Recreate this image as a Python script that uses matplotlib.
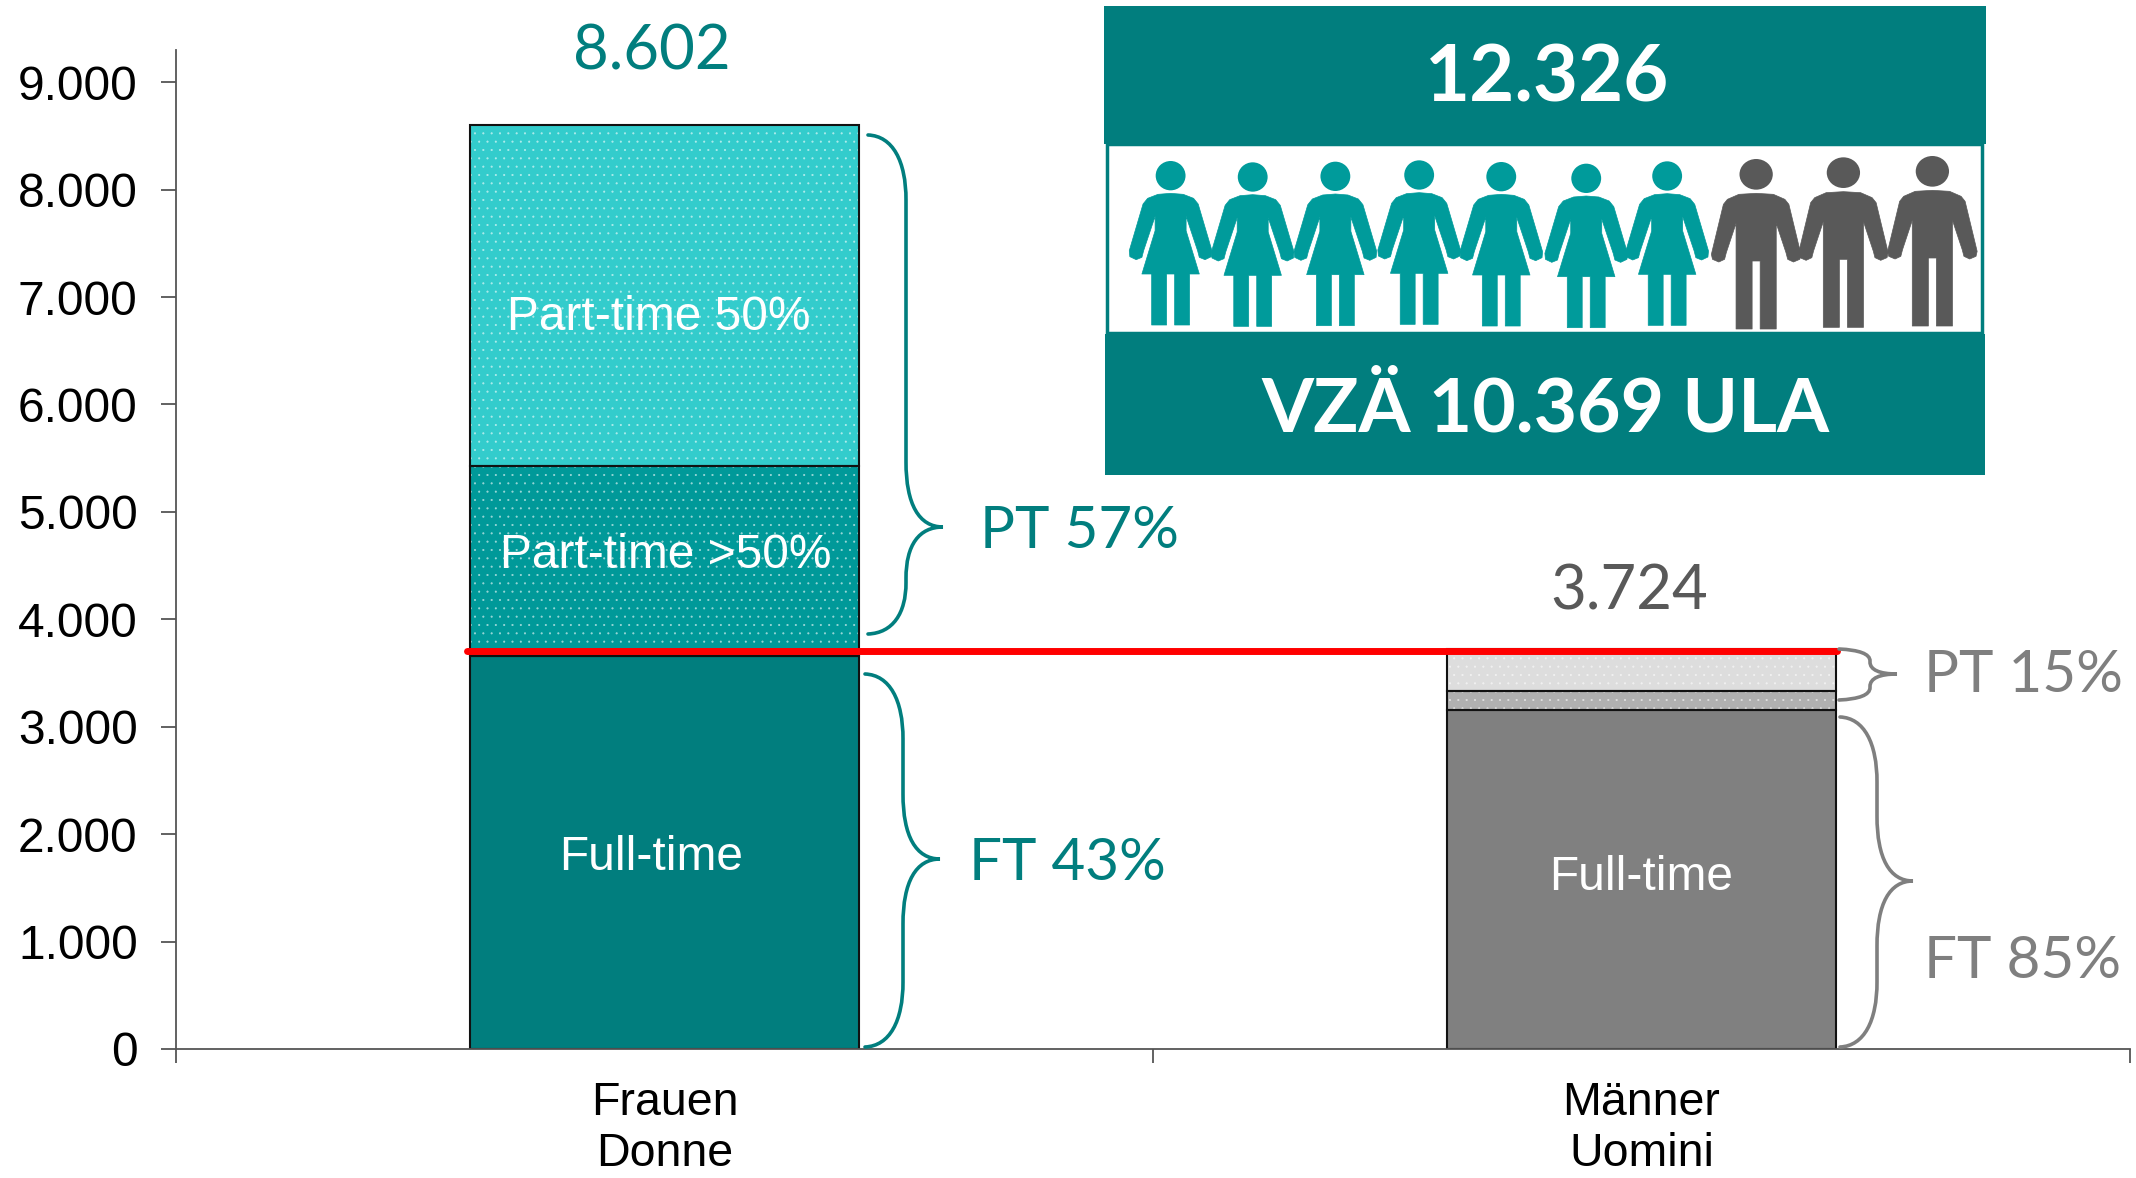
import matplotlib
matplotlib.use("Agg")
import matplotlib.pyplot as plt
from matplotlib.path import Path
from matplotlib.patches import PathPatch, Rectangle, Ellipse, Polygon

# ---- data ----
categories = ["Frauen\nDonne", "Männer\nUomini"]
full_time = [3660, 3156]
part_time_over50 = [1768, 177]
part_time_50 = [3174, 391]
totals = ["8.602", "3.724"]
reference_line = 3724
y_ticks = [0, 1000, 2000, 3000, 4000, 5000, 6000, 7000, 8000, 9000]
ft_labels = ["Full-time", "Full-time"]
pt_share = ["PT 57%", "PT 15%"]
ft_share = ["FT 43%", "FT 85%"]
headcount = "12.326"
fte = "VZÄ 10.369 ULA"
n_women, n_men = 7, 3

# ---- styles ----
TEAL = "#017E7E"
GREY = "#7F7F7F"
ARIAL = "Liberation Sans"
HUM = "Lato"
W, H = 2136, 1178
plt.rcParams["hatch.linewidth"] = 0.3
plt.rcParams["font.family"] = ARIAL

fig = plt.figure(figsize=(W / 100, H / 100), dpi=100, facecolor="white")
L, R, B, T = 176, 2130, 1049, 50
ax = fig.add_axes([L / W, 1 - B / H, (R - L) / W, (B - T) / H])
ax.set_xlim(-0.5, 1.5)
ax.set_ylim(0, 9300)
xs = [0, 1]
bw = 0.398

def stack(vals, bottoms, colors, dotted):
    for i, (v, b) in enumerate(zip(vals, bottoms)):
        ax.bar(xs[i], v, bw, bottom=b, color=colors[i], edgecolor="none", zorder=2)
        if dotted:
            ax.bar(xs[i], v, bw, bottom=b, facecolor="none", edgecolor=(1, 1, 1, 0.55),
                   hatch="..", linewidth=0, zorder=2.1)
        ax.bar(xs[i], v, bw, bottom=b, facecolor="none", edgecolor="#111111",
               linewidth=1.5, zorder=2.2)

b0 = [0, 0]
b1 = full_time
b2 = [a + c for a, c in zip(full_time, part_time_over50)]
stack(full_time, b0, [TEAL, "#808080"], False)
stack(part_time_over50, b1, ["#009999", "#B0B0B0"], True)
stack(part_time_50, b2, ["#33CCCC", "#DDDDDD"], True)
ax.plot([-0.2025, 1.2], [reference_line - 20] * 2, color="#FF0000", lw=5,
        solid_capstyle="round", zorder=4)

for s in ("top", "right"):
    ax.spines[s].set_visible(False)
for s in ("left", "bottom"):
    ax.spines[s].set_color("#555555")
    ax.spines[s].set_linewidth(1.3)
ax.set_yticks(y_ticks)
ax.set_yticklabels([f"{v:,}".replace(",", ".") for v in y_ticks], fontsize=34.5, color="black")
ax.tick_params(axis="y", length=10.6, width=1.3, color="#555555", pad=17)
ax.set_xticks([-0.5, 0.5, 1.5])
ax.set_xticklabels([])
ax.tick_params(axis="x", which="major", length=10, width=1.3, color="#555555")
ax.set_xticks(xs, minor=True)
ax.set_xticklabels(categories, minor=True, fontsize=33.5, color="black", linespacing=1.22)
ax.tick_params(axis="x", which="minor", length=0, pad=23)

# ---- overlay in pixel coordinates ----
ov = fig.add_axes([0, 0, 1, 1], facecolor="none")
ov.set_xlim(0, W)
ov.set_ylim(H, 0)
ov.axis("off")

def txt(x, y, s, size, color, family=HUM, weight="normal"):
    ov.text(x, y, s, fontsize=size, color=color, family=family, weight=weight,
            ha="center", va="center_baseline")

def brace(x0, y0, y1, sx, tx, ym, color):
    r0 = min((ym - y0) * 0.48, 65)
    r1 = min((y1 - ym) * 0.48, 65)
    v = [(x0, y0), (x0 + (sx - x0) * .65, y0 + 1), (sx, y0 + r0 * .4), (sx, y0 + r0),
         (sx, ym - r0),
         (sx, ym - r0 * .35), (sx + (tx - sx) * .35, ym), (tx, ym),
         (sx + (tx - sx) * .35, ym), (sx, ym + r1 * .35), (sx, ym + r1),
         (sx, y1 - r1),
         (sx, y1 - r1 * .4), (x0 + (sx - x0) * .65, y1 - 1), (x0, y1)]
    c = [Path.MOVETO, Path.CURVE4, Path.CURVE4, Path.CURVE4, Path.LINETO,
         Path.CURVE4, Path.CURVE4, Path.CURVE4, Path.CURVE4, Path.CURVE4, Path.CURVE4,
         Path.LINETO, Path.CURVE4, Path.CURVE4, Path.CURVE4]
    ov.add_patch(PathPatch(Path(v, c), fc="none", ec=color, lw=2.6, capstyle="round"))

brace(868, 135, 634, 906, 943, 527, TEAL)
brace(865, 674, 1047, 903, 940, 859, TEAL)
brace(1839, 649, 700, 1870, 1897, 674, GREY)
brace(1840, 717, 1047, 1877, 1913, 881, GREY)

txt(652, 47, totals[0], 44.5, TEAL)
txt(1629, 586, totals[1], 44.5, "#595959")
txt(1079, 526, pt_share[0], 42, TEAL)
txt(1067, 859, ft_share[0], 42, TEAL)
txt(2023, 670, pt_share[1], 42, GREY)
txt(2023, 957, ft_share[1], 42, GREY)
txt(659, 313, "Part-time 50%", 34.5, "white", ARIAL)
txt(666, 550, "Part-time >50%", 34.5, "white", ARIAL)
txt(651, 853, ft_labels[0], 34.5, "white", ARIAL)
txt(1641, 873, ft_labels[1], 34.5, "white", ARIAL)

# ---- infographic panel ----
ov.add_patch(Rectangle((1107, 144), 875, 189, fc="white", ec=TEAL, lw=2.5))
ov.add_patch(Rectangle((1104, 6), 882, 138, fc=TEAL, ec="none"))
ov.add_patch(Rectangle((1105, 334), 880, 141, fc=TEAL, ec="none"))
txt(1547, 72, headcount, 56, "white", HUM, "bold")
txt(1545, 404, fte, 54, "white", HUM, "bold")

SX, SY = 1.742, 3.0
half_w = [(0, 53), (22, 56), (40, 68), (48, 85), (72, 225), (71, 243), (60, 252), (50, 245),
          (47, 225), (27, 122), (27, 165), (50, 295), (33, 295), (33, 448), (7, 448), (7, 295), (0, 295)]
half_m = [(0, 57), (30, 60), (50, 75), (57, 90), (78, 240), (76, 255), (65, 263), (55, 255),
          (52, 235), (35, 147), (35, 464), (7, 464), (7, 260), (0, 260)]

def person(zx, zy, half, hx, hy, color):
    cx, cy = 1100 + zx / SX, zy / SY
    pts = [(cx + x / SX, cy + y / SY) for x, y in half]
    pts += [(cx - x / SX, cy + y / SY) for x, y in reversed(half)]
    ov.add_patch(Polygon(pts, closed=True, fc=color, ec=color, lw=0.5, joinstyle="round"))
    ov.add_patch(Ellipse((cx, cy), 2 * hx / SX, 2 * hy / SY, fc=color, ec="none"))

women = [(123, 527), (266, 531), (410, 529), (556, 525), (699, 530), (847, 535), (988, 528)]
men = [(1143, 523), (1295, 518), (1450, 514)]
for zx, zy in women[:n_women]:
    person(zx, zy, half_w, 26, 44, "#009B9B")
for zx, zy in men[:n_men]:
    person(zx, zy, half_m, 29, 46, "#595959")

fig.savefig("out.png", dpi=100)
